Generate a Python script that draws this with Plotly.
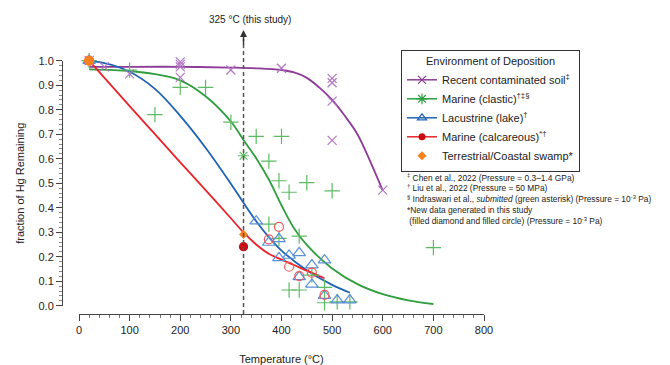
import plotly.graph_objects as go

# ---------------- data ----------------
soil_x = [20, 50, 100, 200, 200, 200, 200, 300, 400, 500, 500, 500, 500, 600]
soil_y = [1.0, 0.975, 0.946, 0.995, 0.985, 0.975, 0.932, 0.962, 0.969, 0.928, 0.91, 0.835, 0.675, 0.472]
soil_curve_x = [20, 100, 200, 300, 350, 400, 425, 450, 475, 500, 525, 550, 575, 600]
soil_curve_y = [0.975, 0.975, 0.975, 0.972, 0.969, 0.962, 0.952, 0.93, 0.89, 0.84, 0.775, 0.70, 0.59, 0.47]

clastic_x = [20, 100, 150, 200, 250, 300, 350, 375, 400, 395, 415, 450, 500,
             375, 395, 435, 415, 435, 460, 485, 485, 510, 535, 700]
clastic_y = [1.0, 0.962, 0.78, 0.891, 0.891, 0.749, 0.691, 0.59, 0.691, 0.51, 0.463, 0.502, 0.469,
             0.333, 0.275, 0.284, 0.064, 0.064, 0.125, 0.075, 0.012, 0.016, 0.016, 0.237]
clastic_ast_x = [325]
clastic_ast_y = [0.612]
clastic_curve_x = [20, 100, 150, 200, 250, 300, 325, 350, 375, 400, 425, 450, 500, 550, 600, 650, 700]
clastic_curve_y = [0.965, 0.958, 0.945, 0.92, 0.855, 0.752, 0.676, 0.602, 0.515, 0.41, 0.315, 0.248,
                   0.152, 0.088, 0.047, 0.022, 0.007]

lake_x = [20, 350, 375, 395, 395, 415, 435, 435, 460, 460, 485, 485, 510, 535]
lake_y = [1.0, 0.345, 0.258, 0.273, 0.195, 0.205, 0.216, 0.118, 0.166, 0.087, 0.186, 0.041, 0.023, 0.023]
lake_curve_x = [20, 50, 100, 150, 200, 250, 300, 325, 350, 375, 400, 450, 500, 535]
lake_curve_y = [0.998, 0.99, 0.955, 0.885, 0.775, 0.645, 0.498, 0.42, 0.345, 0.28, 0.225, 0.145, 0.085, 0.053]

calc_open_x = [20, 375, 395, 415, 435, 460, 485]
calc_open_y = [1.0, 0.271, 0.322, 0.159, 0.121, 0.135, 0.044]
calc_new_x = [325]
calc_new_y = [0.241]
calc_curve_x = [20, 100, 150, 200, 250, 300, 325, 350, 375, 400, 425, 450, 485]
calc_curve_y = [1.0, 0.815, 0.70, 0.585, 0.472, 0.357, 0.299, 0.25, 0.212, 0.188, 0.166, 0.143, 0.112]

swamp_x = [20, 325]
swamp_y = [1.0, 0.291]

study_temp = 325
x_ticks = [0, 100, 200, 300, 400, 500, 600, 700, 800]
y_ticks = [0.0, 0.1, 0.2, 0.3, 0.4, 0.5, 0.6, 0.7, 0.8, 0.9, 1.0]

legend_names = ["Recent contaminated soil<sup>‡</sup>",
                "Marine (clastic)<sup>†‡§</sup>",
                "Lacustrine (lake)<sup>†</sup>",
                "Marine (calcareous)<sup>*†</sup>",
                "Terrestrial/Coastal swamp*"]

# ---------------- colours ----------------
PURPLE_L, PURPLE_M = "#8E3A98", "#B277C2"
GREEN_L, GREEN_M = "#2E9E3E", "#5DBB63"
BLUE_L, BLUE_M = "#1F63B5", "#5A8FD6"
RED_L, RED_M, RED_F = "#E8232A", "#F05A5A", "#CC0A14"
ORANGE = "#F5821F"

FONT = "Arial, Liberation Sans, sans-serif"

# ---------------- layout geometry (pixels) ----------------
W, H = 670, 365
L, R, T, B = 62, 490, 25, 314          # main (hidden) plotting area
X0PX, X800PX = 79, 484                  # pixel of x=0 and x=800
Y0PX, Y1PX = 305.7, 60.7                # pixel of y=0 and y=1
kx = (X800PX - X0PX) / 800.0
ky = (Y0PX - Y1PX) / 1.0
xr = [(L - X0PX) / kx, (R - X0PX) / kx]
yr = [(Y0PX - B) / ky, (Y0PX - T) / ky]
pw, ph = R - L, B - T

fig = go.Figure()

def line(x, y, c):
    fig.add_trace(go.Scatter(x=x, y=y, mode="lines", line=dict(color=c, width=1.8, shape="spline", smoothing=1.0),
                             showlegend=False, hoverinfo="skip"))

def pts(x, y, sym, c, size, lw=1.2, fill=None):
    fig.add_trace(go.Scatter(x=x, y=y, mode="markers", cliponaxis=False,
                             marker=dict(symbol=sym, size=size, color=fill or c,
                                         line=dict(color=c, width=lw)),
                             showlegend=False, hoverinfo="skip"))

# curves
line(soil_curve_x, soil_curve_y, PURPLE_L)
line(clastic_curve_x, clastic_curve_y, GREEN_L)
line(lake_curve_x, lake_curve_y, BLUE_L)
line(calc_curve_x, calc_curve_y, RED_L)

# markers
pts(soil_x, soil_y, "x-thin-open", PURPLE_M, 9)
pts(clastic_x, clastic_y, "cross-thin-open", GREEN_M, 11)
pts(clastic_ast_x, clastic_ast_y, "asterisk-open", GREEN_M, 9)
pts(lake_x, lake_y, "triangle-up-open", BLUE_M, 11)
pts(calc_open_x, calc_open_y, "circle-open", RED_M, 9)
pts(calc_new_x, calc_new_y, "circle", RED_F, 8)
pts(swamp_x[:1], swamp_y[:1], "circle", ORANGE, 9, lw=1, fill=ORANGE)
pts(swamp_x[1:], swamp_y[1:], "diamond", ORANGE, 7, lw=0, fill=ORANGE)

# legend-only entries
leg_styles = [
    dict(mode="lines+markers", line=dict(color=PURPLE_L, width=1.5), marker=dict(symbol="x-thin-open", size=8, line=dict(color=PURPLE_M, width=1.2))),
    dict(mode="lines+markers", line=dict(color=GREEN_L, width=1.5), marker=dict(symbol="asterisk-open", size=9, line=dict(color=GREEN_M, width=1.2))),
    dict(mode="lines+markers", line=dict(color=BLUE_L, width=1.5), marker=dict(symbol="triangle-up-open", size=8, line=dict(color=BLUE_M, width=1.2))),
    dict(mode="lines+markers", line=dict(color=RED_L, width=1.5), marker=dict(symbol="circle", size=7, color=RED_F)),
    dict(mode="markers", marker=dict(symbol="diamond", size=7, color=ORANGE)),
]
for name, st in zip(legend_names, leg_styles):
    fig.add_trace(go.Scatter(x=[None], y=[None], name=name, hoverinfo="skip", **st))

# dummy trace to build the decorated axes subplot
fig.add_trace(go.Scatter(x=[None], y=[None], xaxis="x2", yaxis="y2", showlegend=False, hoverinfo="skip"))

# vertical dashed line at this study's temperature
fig.add_shape(type="line", xref="x", yref="y", x0=study_temp, x1=study_temp, y0=yr[0], y1=1.09,
              line=dict(color="#555555", width=1.5, dash="4px,3px"))
fig.add_annotation(x=study_temp, y=1.125, ax=study_temp, ay=1.06, xref="x", yref="y", axref="x", ayref="y",
                   text="", showarrow=True, arrowhead=2, arrowsize=1, arrowwidth=1.4, arrowcolor="#333333")
fig.add_annotation(x=study_temp, xref="x", y=(B - 20) / ph, yref="paper", xshift=6,
                   text="325 °C (this study)", showarrow=False, font=dict(size=10, color="#222222", family=FONT),
                   yanchor="middle")

# footnotes
foot = ("<sup>‡</sup> Chen et al., 2022 (Pressure = 0.3–1.4 GPa)<br>"
        "<sup>†</sup> Liu et al., 2022 (Pressure = 50 MPa)<br>"
        "<sup>§</sup> Indraswari et al., <i>submitted</i> (green asterisk) (Pressure = 10<sup>-3</sup> Pa)<br>"
        "*New data generated in this study<br>"
        " (filled diamond and filled circle) (Pressure = 10<sup>-3</sup> Pa)")
fig.add_annotation(x=(405 - L) / pw, y=(B - 170) / ph, xref="paper", yref="paper", xanchor="left", yanchor="top",
                   align="left", text=foot, showarrow=False, font=dict(size=8.4, color="#222222", family=FONT))

axis_common = dict(showgrid=False, zeroline=False, showline=True, linecolor="#444444", linewidth=1,
                   ticks="outside", tickcolor="#444444", tickwidth=1,
                   tickfont=dict(size=11, color="#222222", family=FONT))

fig.update_layout(
    width=W, height=H,
    margin=dict(l=L, r=W - R, t=T, b=H - B, autoexpand=False),
    paper_bgcolor="white", plot_bgcolor="rgba(0,0,0,0)",
    font=dict(family=FONT, color="#222222"),
    xaxis=dict(range=xr, visible=False, domain=[0, 1]),
    yaxis=dict(range=yr, visible=False, domain=[0, 1]),
    xaxis2=dict(axis_common, domain=[(X0PX - L) / pw, (X800PX - L) / pw], range=[0, 800],
                anchor="free", position=0, tickvals=x_ticks, ticklen=6,
                minor=dict(dtick=20, ticklen=3, ticks="outside", tickcolor="#777777"),
                title=dict(text="Temperature (°C)", font=dict(size=11, family=FONT), standoff=27),
                automargin=False),
    yaxis2=dict(axis_common, domain=[(B - Y0PX) / ph, (B - Y1PX) / ph], range=[0, 1],
                anchor="free", position=0, tickvals=y_ticks, tickformat=".1f", ticklen=6,
                minor=dict(dtick=0.02, ticklen=3, ticks="outside", tickcolor="#888888"),
                title=dict(text="fraction of Hg Remaining", font=dict(size=11, family=FONT), standoff=10),
                automargin=False),
    legend=dict(x=(401 - L) / pw, y=(B - 50) / ph, xanchor="left", yanchor="top",
                bordercolor="#333333", borderwidth=1, bgcolor="white",
                font=dict(size=11, family=FONT, color="#222222"),
                title=dict(text="Environment of Deposition", side="top center",
                           font=dict(size=11, family=FONT, color="#222222")),
                itemwidth=30, tracegroupgap=0),
    showlegend=True,
)

fig.write_html("out.html")
